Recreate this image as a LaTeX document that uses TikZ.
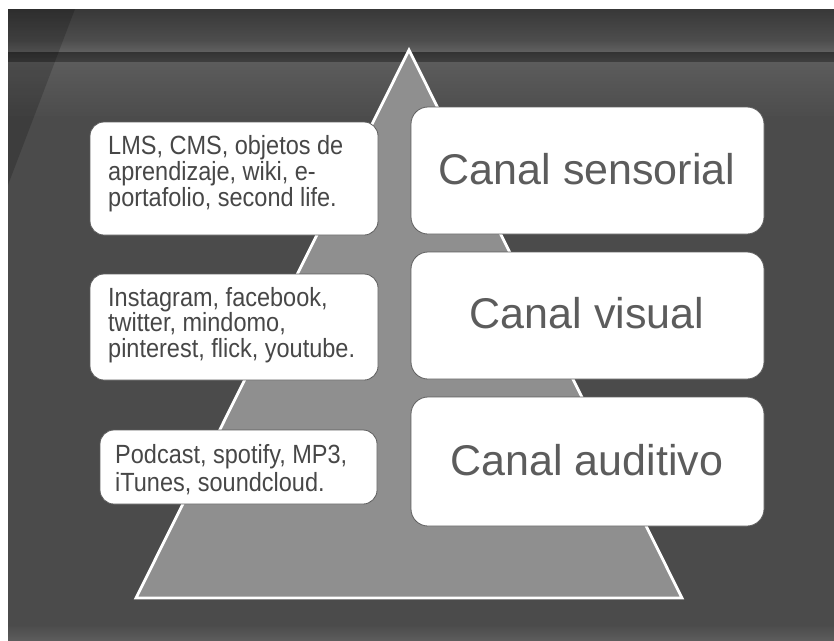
\documentclass[tikz,border=0pt]{standalone}
\usepackage{fontspec}
\setmainfont{Liberation Sans}
\definecolor{bgc}{HTML}{4B4B4B}
\definecolor{tri}{HTML}{8F8F8F}
\definecolor{bigtxt}{HTML}{5C5C5C}
\definecolor{smalltxt}{HTML}{474747}
\definecolor{boxedge}{HTML}{5E5E5E}
\newcommand{\tallt}[1]{\scalebox{1}[1.12]{#1}}
\tikzset{
  bigbox/.style={fill=white, draw=boxedge, line width=0.8pt, rounded corners=17pt, inner sep=0pt},
  smallbox/.style={fill=white, draw=boxedge, line width=0.8pt, rounded corners=14pt, inner sep=0pt},
  biglabel/.style={text=bigtxt, font=\fontsize{43}{50}\selectfont, inner sep=0pt},
  smallline/.style={text=smalltxt, font=\fontsize{23.5}{26}\selectfont, inner sep=0pt, anchor=base west}
}
\begin{document}
\begin{tikzpicture}[x=1pt,y=-1pt]
\useasboundingbox (0,0) rectangle (834,640);
\fill[white] (0,0) rectangle (834,640);
% background
\fill[bgc] (8,9) rectangle (834,640);
\shade[top color={black!78}, bottom color={black!70}] (8,9) rectangle (834,40);
\shade[top color={black!70}, bottom color={black!62}] (8,40) rectangle (834,52);
\shade[top color={black!80}, bottom color={black!75}] (8,52) rectangle (834,62);
\shade[top color={black!64}, bottom color={black!70}] (8,62) rectangle (834,115);
\fill[black, opacity=0.18] (8,9) -- (75,9) -- (8,185) -- cycle;
\shade[top color={black!70}, bottom color={black!64}] (8,626) rectangle (834,640);
% triangle
\filldraw[fill=tri, draw=white, line width=2.8pt, line join=miter] (409,50) -- (682,598) -- (136,598) -- cycle;
% right boxes
\node[bigbox, minimum width=353pt, minimum height=127pt] (b1) at (587.5,170.5) {};
\node[bigbox, minimum width=353pt, minimum height=127pt] (b2) at (587.5,315.5) {};
\node[bigbox, minimum width=353pt, minimum height=129pt] (b3) at (587.5,461.5) {};
\node[biglabel] (t1) at (587,169) {Canal sensorial};
\node[biglabel] (t2) at (587,313) {Canal visual};
\node[biglabel] (t3) at (587,460) {Canal auditivo};
% left boxes
\node[smallbox, minimum width=288pt, minimum height=113pt] (ba) at (234,178.5) {};
\node[smallbox, minimum width=288pt, minimum height=106pt] (bb) at (234,327) {};
\node[smallbox, minimum width=277pt, minimum height=74pt] (bc) at (238.5,467) {};
\node[smallline] (a1) at (108,154) {\tallt{LMS, CMS, objetos de}};
\node[smallline] (a2) at (108,180) {\tallt{aprendizaje, wiki, e-}};
\node[smallline] (a3) at (108,206) {\tallt{portafolio, second life.}};
\node[smallline] (l1) at (108,306) {\tallt{Instagram, facebook,}};
\node[smallline] (l2) at (108,331.5) {\tallt{twitter, mindomo,}};
\node[smallline] (l3) at (108,357) {\tallt{pinterest, flick, youtube.}};
\node[smallline] (c1) at (115,463) {\tallt{Podcast, spotify, MP3,}};
\node[smallline] (c2) at (115,491) {\tallt{iTunes, soundcloud.}};
\end{tikzpicture}
\end{document}
